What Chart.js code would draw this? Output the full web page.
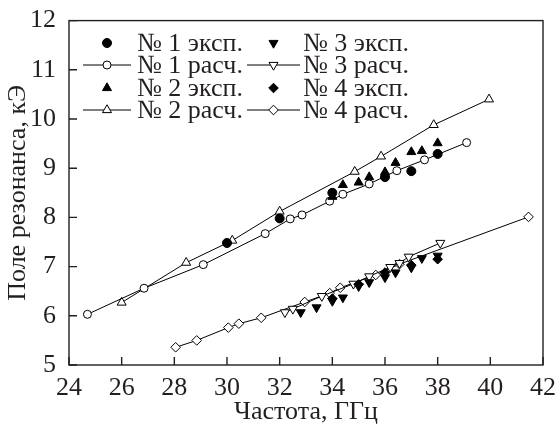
<!DOCTYPE html>
<html>
<head>
<meta charset="utf-8">
<script src="https://cdn.jsdelivr.net/npm/chart.js@4.4.1/dist/chart.umd.min.js"></script>
<style>
  html, body { margin: 0; padding: 0; background: #fff; }
</style>
</head>
<body>
<canvas id="chart" width="556" height="432"></canvas>
<script>
// === Данные (частота, ГГц / поле резонанса, кЭ) ===
const freq1Exp  = [30.0, 32.0, 34.0, 36.0, 37.0, 38.0];
const field1Exp = [7.48, 7.98, 8.50, 8.82, 8.94, 9.29];
const freq1Calc  = [24.7, 26.85, 29.1, 31.45, 32.4, 32.85, 33.9, 34.4, 35.4, 36.45, 37.5, 39.1];
const field1Calc = [6.03, 6.56, 7.04, 7.67, 7.97, 8.05, 8.33, 8.47, 8.68, 8.95, 9.17, 9.52];

const freq2Exp  = [34.0, 34.4, 35.0, 35.4, 36.0, 36.4, 37.0, 37.4, 38.0];
const field2Exp = [8.42, 8.66, 8.71, 8.82, 8.92, 9.11, 9.33, 9.35, 9.51];
const freq2Calc  = [26.0, 28.45, 30.2, 32.0, 34.85, 35.85, 37.85, 39.95];
const field2Calc = [6.27, 7.08, 7.53, 8.12, 8.93, 9.24, 9.88, 10.40];

const freq3Exp  = [32.8, 33.4, 34.0, 34.4, 35.0, 35.4, 36.0, 36.4, 37.0, 37.4, 38.0];
const field3Exp = [6.07, 6.17, 6.30, 6.37, 6.60, 6.68, 6.78, 6.88, 6.98, 7.17, 7.22];
const freq3Calc  = [32.2, 32.5, 33.6, 34.8, 35.4, 36.2, 36.55, 36.9, 38.1];
const field3Calc = [6.07, 6.14, 6.40, 6.65, 6.80, 6.99, 7.07, 7.20, 7.48];

const freq4Exp  = [34.0, 35.0, 36.0, 37.0, 38.0];
const field4Exp = [6.35, 6.64, 6.88, 7.03, 7.15];
const freq4Calc  = [28.05, 28.85, 30.05, 30.45, 31.3, 32.95, 33.9, 34.3, 35.65, 36.55, 41.45];
const field4Calc = [5.36, 5.50, 5.76, 5.84, 5.96, 6.28, 6.46, 6.57, 6.83, 7.05, 8.01];

const xTicks = [24, 26, 28, 30, 32, 34, 36, 38, 40, 42];
const yTicks = [5, 6, 7, 8, 9, 10, 11, 12];

const ink = '#231f20';
const font = { family: 'Liberation Serif', size: 26 };

const pts = (xs, ys) => xs.map((x, i) => ({ x, y: ys[i] }));

// === Серии ===
function expSet(label, xs, ys, style, radius, rotation) {
  return {
    label, data: pts(xs, ys), showLine: false,
    pointStyle: style, pointRadius: radius, pointRotation: rotation || 0,
    pointBackgroundColor: '#000', pointBorderColor: '#000', pointBorderWidth: 1
  };
}
function calcSet(label, xs, ys, style, radius, rotation) {
  return {
    label, data: pts(xs, ys), showLine: true,
    borderColor: '#000', borderWidth: 1,
    pointStyle: style, pointRadius: radius, pointRotation: rotation || 0,
    pointBackgroundColor: '#fff', pointBorderColor: '#000', pointBorderWidth: 1
  };
}

const datasets = [
  expSet('№ 1 эксп.', freq1Exp, field1Exp, 'circle', 4.5),
  expSet('№ 2 эксп.', freq2Exp, field2Exp, 'triangle', 5.2),
  expSet('№ 3 эксп.', freq3Exp, field3Exp, 'triangle', 5.2, 180),
  expSet('№ 4 эксп.', freq4Exp, field4Exp, 'rectRot', 4.8),
  calcSet('№ 1 расч.', freq1Calc, field1Calc, 'circle', 4),
  calcSet('№ 2 расч.', freq2Calc, field2Calc, 'triangle', 5.2),
  calcSet('№ 3 расч.', freq3Calc, field3Calc, 'triangle', 5.2, 180),
  calcSet('№ 4 расч.', freq4Calc, field4Calc, 'rectRot', 4.8)
];

// === Маркер для легенды ===
function marker(ctx, style, r, rot, x, y) {
  ctx.beginPath();
  if (style === 'circle') {
    ctx.arc(x, y, r, 0, Math.PI * 2);
  } else if (style === 'triangle') {
    let a = (rot || 0) * Math.PI / 180;
    for (let k = 0; k < 3; k++) {
      const px = x + Math.sin(a) * r, py = y - Math.cos(a) * r;
      k ? ctx.lineTo(px, py) : ctx.moveTo(px, py);
      a += 2 * Math.PI / 3;
    }
  } else {
    ctx.moveTo(x, y - r); ctx.lineTo(x + r, y);
    ctx.lineTo(x, y + r); ctx.lineTo(x - r, y);
  }
  ctx.closePath();
  ctx.fill();
  ctx.stroke();
}

const legendOrder = [
  ['№ 1 эксп.', '№ 1 расч.', '№ 2 эксп.', '№ 2 расч.'],
  ['№ 3 эксп.', '№ 3 расч.', '№ 4 эксп.', '№ 4 расч.']
];

// === Рамка, засечки и легенда ===
const frame = {
  id: 'frame',
  afterDraw(chart) {
    const { ctx, chartArea: a, scales: { x, y } } = chart;
    ctx.save();
    ctx.strokeStyle = ink;
    ctx.lineWidth = 1.4;
    ctx.strokeRect(a.left, a.top, a.right - a.left, a.bottom - a.top);
    ctx.beginPath();
    xTicks.forEach(v => {
      const px = x.getPixelForValue(v);
      ctx.moveTo(px, a.bottom); ctx.lineTo(px, a.bottom - 8);
    });
    yTicks.forEach(v => {
      const py = y.getPixelForValue(v);
      ctx.moveTo(a.left, py); ctx.lineTo(a.left + 8, py);
    });
    ctx.stroke();

    // легенда в две колонки
    const cols = [{ x0: 83, x1: 131, tx: 137 }, { x0: 247, x1: 300, tx: 303 }];
    const rows = [43, 65, 88, 110];
    ctx.font = `${font.size}px "${font.family}"`;
    ctx.textBaseline = 'middle';
    ctx.textAlign = 'left';
    legendOrder.forEach((col, c) => {
      col.forEach((label, r) => {
        const ds = datasets.find(d => d.label === label);
        const cy = rows[r], { x0, x1, tx } = cols[c];
        const mx = (x0 + x1) / 2;
        ctx.lineWidth = 1;
        ctx.strokeStyle = '#000';
        if (ds.showLine) {
          ctx.beginPath(); ctx.moveTo(x0, cy); ctx.lineTo(x1, cy); ctx.stroke();
        }
        ctx.fillStyle = ds.pointBackgroundColor;
        marker(ctx, ds.pointStyle, ds.pointRadius, ds.pointRotation, mx, cy);
        ctx.fillStyle = ink;
        ctx.fillText(label, tx, cy + 1);
      });
    });
    ctx.restore();
  }
};

new Chart(document.getElementById('chart'), {
  type: 'scatter',
  data: { datasets },
  options: {
    responsive: false,
    animation: false,
    layout: { padding: { top: 17, right: 13, left: 0, bottom: 0 } },
    plugins: { legend: { display: false }, tooltip: { enabled: false } },
    scales: {
      x: {
        type: 'linear', min: 24, max: 42,
        afterBuildTicks: s => { s.ticks = xTicks.map(v => ({ value: v })); },
        afterFit: s => { s.height = 67; },
        grid: { display: false },
        border: { display: false },
        ticks: { color: ink, font, padding: 0, maxRotation: 0 },
        title: { display: true, text: 'Частота, ГГц', color: ink, font, padding: { top: 0, bottom: 4 } }
      },
      y: {
        type: 'linear', min: 5, max: 12,
        afterBuildTicks: s => { s.ticks = yTicks.map(v => ({ value: v })); },
        afterFit: s => { s.width = 69; },
        grid: { display: false },
        border: { display: false },
        ticks: { color: ink, font, padding: 5 },
        title: { display: true, text: 'Поле резонанса, кЭ', color: ink, font, padding: { top: 3, bottom: 0 } }
      }
    }
  },
  plugins: [frame]
});
</script>
</body>
</html>
